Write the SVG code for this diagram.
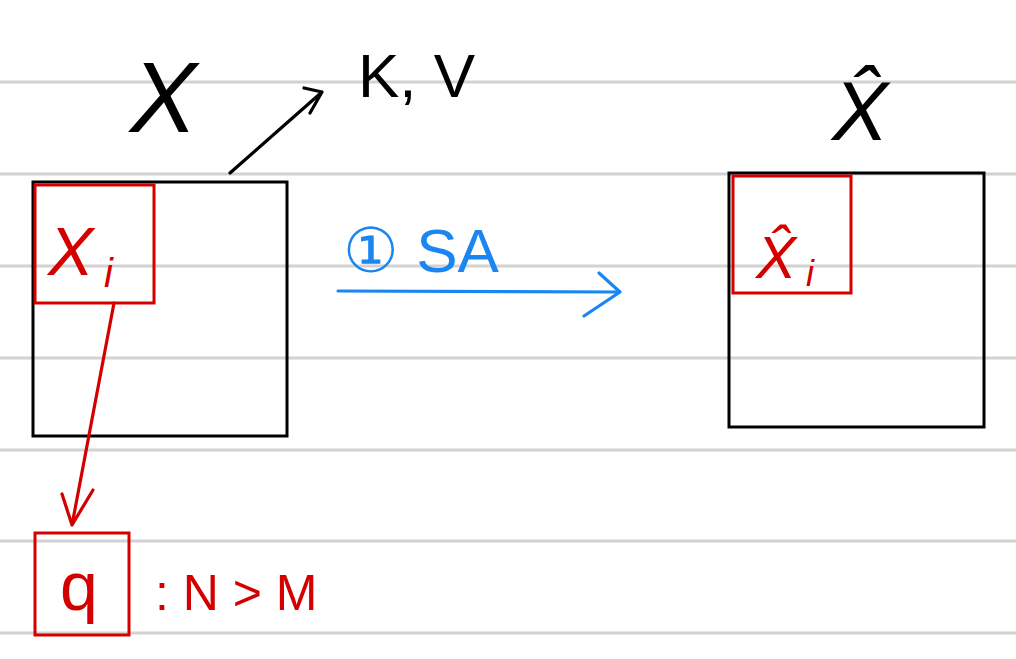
<svg xmlns="http://www.w3.org/2000/svg" width="1016" height="659" viewBox="0 0 1016 659">
<style>
.rule{stroke:#d2d2d2;stroke-width:3}
.blk{fill:none;stroke:#000;stroke-width:3}
.red{fill:none;stroke:#d40000;stroke-width:3}
.tb{font-family:"Liberation Sans",Arial,sans-serif;fill:#000}
.tr{font-family:"Liberation Sans",Arial,sans-serif;fill:#d40000}
.tl{font-family:"Liberation Sans",Arial,sans-serif;fill:#1a86f2}
.conn{fill:none;stroke-width:3.2;stroke-linecap:round;stroke-linejoin:round}
</style>
<rect width="1016" height="659" fill="#fff"/>
<g id="rules">
<line class="rule" x1="0" y1="82" x2="1016" y2="82"/>
<line class="rule" x1="0" y1="174" x2="1016" y2="174"/>
<line class="rule" x1="0" y1="266" x2="1016" y2="266"/>
<line class="rule" x1="0" y1="358" x2="1016" y2="358"/>
<line class="rule" x1="0" y1="450" x2="1016" y2="450"/>
<line class="rule" x1="0" y1="541" x2="1016" y2="541"/>
<line class="rule" x1="0" y1="633" x2="1016" y2="633"/>
</g>
<g id="label-X"><text class="tb" x="130" y="132" font-size="100" font-style="italic">X</text></g>
<g id="label-KV"><text class="tb" x="358" y="97" font-size="62">K, V</text></g>
<g id="label-Xhat"><text class="tb" x="832" y="140" font-size="84" font-style="italic">X̂</text></g>
<g id="box-X"><rect class="blk" x="33" y="182" width="254" height="254"/></g>
<g id="box-Xi"><rect class="red" x="35" y="185" width="119" height="118"/>
<text class="tr" x="48" y="275" font-size="68" font-style="italic">X</text>
<text class="tr" x="104" y="287" font-size="40" font-style="italic">i</text></g>
<g id="box-Xhat"><rect class="blk" x="729" y="173" width="255" height="254"/></g>
<g id="box-Xhati"><rect class="red" x="733" y="176" width="118" height="117"/>
<text class="tr" x="756" y="278" font-size="60" font-style="italic">X̂</text>
<text class="tr" x="806" y="286" font-size="36" font-style="italic">i</text></g>
<g id="box-q"><rect class="red" x="35" y="533" width="94" height="102"/>
<text class="tr" x="60" y="610" font-size="68">q</text></g>
<g id="label-NM"><text class="tr" x="155" y="610" font-size="50">: N &gt; M</text></g>
<g id="label-SA"><text class="tl" x="343" y="272" font-size="62">① SA</text></g>
<g id="connectors">
<path class="conn" stroke="#000" d="M230 173 L322 92 M304 88 L322 92 L310 113"/>
<path class="conn" stroke="#d40000" d="M114 303 L72 525 M62 494 L72 525 L93 490"/>
<path class="conn" stroke="#1a86f2" d="M338 291 L620 292 M599 273 L620 292 L584 316"/>
</g>
</svg>
